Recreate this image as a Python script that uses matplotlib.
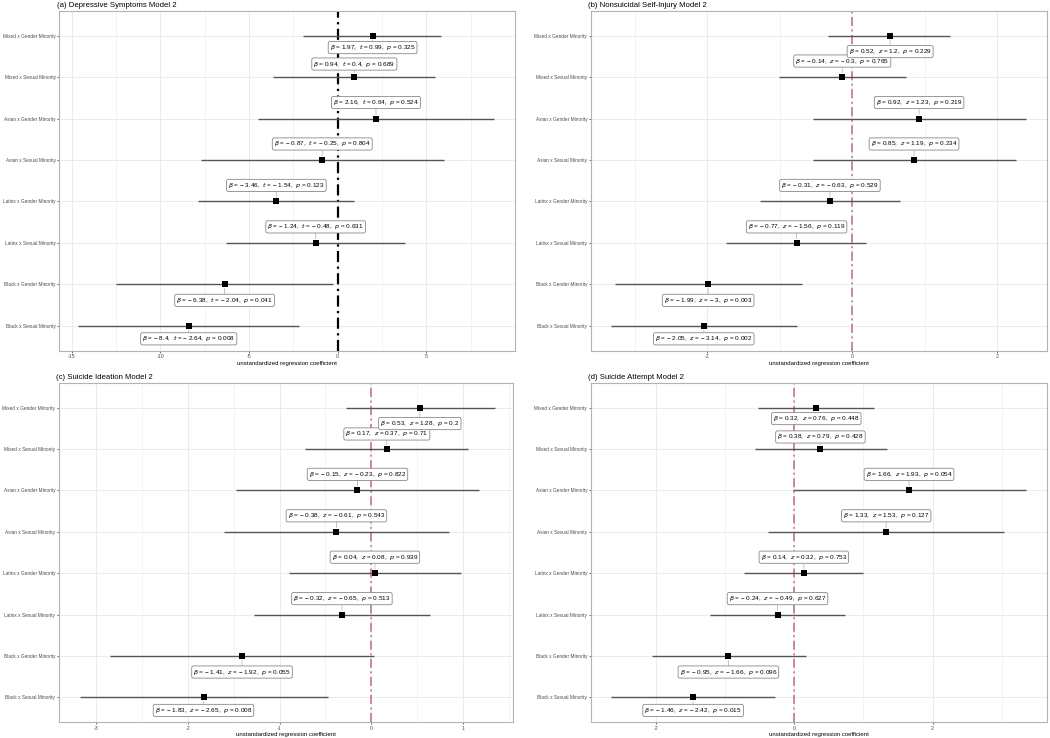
import matplotlib
matplotlib.use('Agg')
import matplotlib.pyplot as plt
import numpy as np

plt.rcParams['font.family'] = ['Liberation Sans', 'DejaVu Sans']

terms = ['Black x Sexual Minority', 'Black x Gender Minority',
         'Latinx x Sexual Minority', 'Latinx x Gender Minority',
         'Asian x Sexual Minority', 'Asian x Gender Minority',
         'Mixed x Sexual Minority', 'Mixed x Gender Minority']

titles = ['(a) Depressive Symptoms Model 2', '(b) Nonsuicidal Self-Injury Model 2',
          '(c) Suicide Ideation Model 2', '(d) Suicide Attempt Model 2']
stat_names = ['t', 'z', 'z', 'z']

# values in the order of terms (bottom to top)
beta_a = [-8.4, -6.38, -1.24, -3.46, -0.87, 2.16, 0.94, 1.97]
lo_a = [-14.63, -12.52, -6.30, -7.87, -7.72, -4.48, -3.67, -1.94]
hi_a = [-2.16, -0.26, 3.82, 0.94, 5.99, 8.81, 5.50, 5.85]
stat_a = [-2.64, -2.04, -0.48, -1.54, -0.25, 0.64, 0.4, 0.99]
p_a = [0.008, 0.041, 0.631, 0.123, 0.804, 0.524, 0.689, 0.325]

beta_b = [-2.05, -1.99, -0.77, -0.31, 0.85, 0.92, -0.14, 0.52]
lo_b = [-3.33, -3.28, -1.74, -1.28, -0.55, -0.55, -1.01, -0.33]
hi_b = [-0.77, -0.69, 0.19, 0.65, 2.25, 2.39, 0.74, 1.35]
stat_b = [-3.14, -3, -1.56, -0.63, 1.19, 1.23, -0.3, 1.2]
p_b = [0.002, 0.003, 0.119, 0.529, 0.234, 0.219, 0.765, 0.229]

beta_c = [-1.83, -1.41, -0.32, 0.04, -0.38, -0.15, 0.17, 0.53]
lo_c = [-3.18, -2.85, -1.28, -0.90, -1.61, -1.48, -0.72, -0.28]
hi_c = [-0.47, 0.03, 0.64, 0.98, 0.85, 1.18, 1.06, 1.345]
stat_c = [-2.65, -1.92, -0.65, 0.08, -0.61, -0.23, 0.37, 1.28]
p_c = [0.008, 0.055, 0.513, 0.939, 0.543, 0.822, 0.71, 0.2]

beta_d = [-1.46, -0.95, -0.24, 0.14, 1.33, 1.66, 0.38, 0.32]
lo_d = [-2.64, -2.06, -1.21, -0.73, -0.38, -0.02, -0.57, -0.52]
hi_d = [-0.28, 0.165, 0.73, 1.0, 3.03, 3.35, 1.335, 1.155]
stat_d = [-2.42, -1.66, -0.49, 0.32, 1.53, 1.93, 0.79, 0.76]
p_d = [0.015, 0.096, 0.627, 0.753, 0.127, 0.054, 0.428, 0.448]

# label offsets in pixels (+ above, - below), bottom to top
dy_a = [-13, -16, 16, 16, 16, 16, 13, -12]
dy_b = [-13, -16, 16, 16, 16, 16, 16, -16]
dy_c = [-13, -16, 16, 16, 16, 16, 15, -16]
dy_d = [-13, -16, 16, 16, 16, 16, 12, -11]

panels = [
    (beta_a, lo_a, hi_a, stat_a, p_a, dy_a, (-15.7, 10.0), [-15, -10, -5, 0, 5], 2.5),
    (beta_b, lo_b, hi_b, stat_b, p_b, dy_b, (-3.61, 2.68), [-2, 0, 2], 1.0),
    (beta_c, lo_c, hi_c, stat_c, p_c, dy_c, (-3.41, 1.55), [-3, -2, -1, 0, 1], 0.5),
    (beta_d, lo_d, hi_d, stat_d, p_d, dy_d, (-2.94, 3.65), [-2, 0, 2], 1.0),
]

W, H = 1050, 738
# axes boxes in pixels: left, right, top, bottom
boxes = [(59.3, 515, 10.7, 350.7), (590.7, 1046.7, 10.7, 350.7),
         (58.7, 513.3, 382.7, 722.3), (590.7, 1046.7, 382.7, 722.3)]

fig = plt.figure(figsize=(W / 100, H / 100), dpi=100)

def fmt(v):
    s = ('%g' % v)
    return s.replace('-', '\u2212 ')

for i, (beta, lo, hi, st, pv, dys, xlim, xt, minor) in enumerate(panels):
    l, r, t, b = boxes[i]
    ax = fig.add_axes([l / W, 1 - b / H, (r - l) / W, (b - t) / H])
    y = np.arange(1, len(terms) + 1)
    ax.set_xlim(*xlim)
    ax.set_ylim(0.4, len(terms) + 0.6)
    ax.set_yticks(y)
    ax.set_yticklabels(terms, fontsize=3.4, color='#4d4d4d')
    ax.set_xticks(xt)
    ax.set_xticklabels(['%g' % v for v in xt], fontsize=3.8, color='#4d4d4d')
    mt = np.arange(np.ceil(xlim[0] / minor) * minor, xlim[1], minor)
    ax.set_xticks(mt, minor=True)
    ax.tick_params(axis='both', which='major', length=1.5, width=0.5, color='#333333', pad=1)
    ax.tick_params(axis='x', which='minor', length=0)
    ax.grid(True, which='major', color='#ebebeb', linewidth=0.7)
    ax.grid(True, which='minor', axis='x', color='#ebebeb', linewidth=0.4)
    ax.set_axisbelow(True)
    for sp in ax.spines.values():
        sp.set_color('#b3b3b3')
        sp.set_linewidth(0.8)
    if i == 0:
        ax.axvline(0, color='black', linestyle='-.', linewidth=1.6, dashes=(5, 2, 1, 2), zorder=1)
    else:
        ax.axvline(0, color='#cc79a7', linestyle='-.', linewidth=1.3, dashes=(5, 2, 1, 2), zorder=1)
    ax.hlines(y, lo, hi, color='#555555', linewidth=1.0, zorder=2)
    ax.scatter(beta, y, marker='s', s=18, color='black', zorder=3, linewidths=0)
    sname = stat_names[i]
    for k in range(len(terms)):
        txt = r'$\beta$ = %s,  $%s$ = %s,  $p$ = %s' % (fmt(beta[k]), sname, fmt(st[k]), '%g' % pv[k])
        ax.annotate(txt, xy=(beta[k], y[k]), xytext=(0, dys[k] * 0.72),
                    textcoords='offset points', ha='center', va='center',
                    fontsize=4.6, color='black', zorder=4,
                    bbox=dict(boxstyle='round,pad=0.25,rounding_size=0.3', fc='white',
                              ec='#888888', lw=0.6),
                    arrowprops=dict(arrowstyle='-', color='#bbbbbb', lw=0.6,
                                    shrinkA=0, shrinkB=3))
    ax.set_xlabel('unstandardized regression coefficient', fontsize=4.3, labelpad=1)
    ax.set_title(titles[i], fontsize=5.6, loc='left', x=-0.005, pad=3)

fig.savefig('out.png', dpi=100)
